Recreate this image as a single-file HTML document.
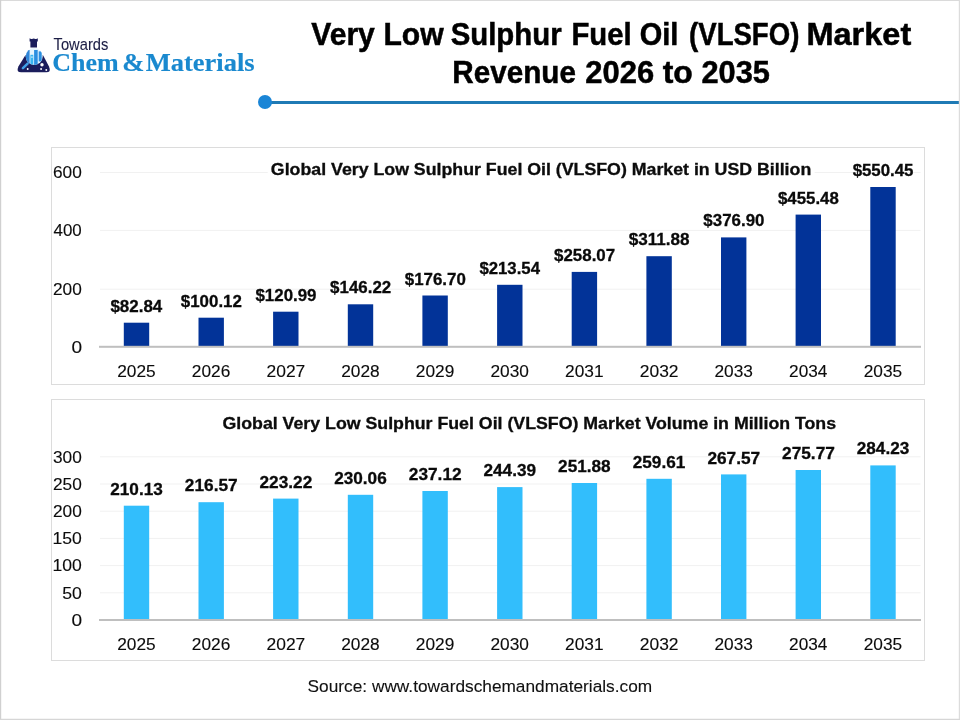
<!DOCTYPE html>
<html lang="en">
<head>
<meta charset="utf-8">
<title>Very Low Sulphur Fuel Oil (VLSFO) Market Revenue 2026 to 2035</title>
<style>
html,body{margin:0;padding:0;background:#fff;}
body{width:960px;height:720px;overflow:hidden;}
svg{display:block;}
text{font-family:"Liberation Sans",Arial,sans-serif;fill:#000;}
.t{font-weight:bold;stroke:#000;stroke-width:0.5px;}
.tw{fill:#1c1e45;stroke:#1c1e45;stroke-width:0.1px;}
.ser{font-family:"Liberation Serif","Times New Roman",serif;font-weight:bold;fill:#1a89cf;stroke:#1a89cf;stroke-width:0.15px;}
.ax{fill:#0c0c0c;stroke:#0c0c0c;stroke-width:0.12px;}
.dl{font-weight:bold;fill:#0a0a0a;stroke:#0a0a0a;stroke-width:0.3px;}
.ct{font-weight:bold;fill:#0c0c0c;stroke:#0c0c0c;stroke-width:0.3px;}
.src{fill:#111;stroke:#111;stroke-width:0.1px;}
</style>
</head>
<body>
<svg width="960" height="720" viewBox="0 0 960 720" role="img" aria-label="VLSFO market revenue and volume charts">
<rect x="0" y="0" width="960" height="720" fill="#ffffff"/>

<g id="logo">
<defs><clipPath id="lens"><circle cx="34.2" cy="56.4" r="8.5"/></clipPath></defs>
<path d="M29.6 38.3 q1.2 1 2.4 0.6 q1.7 -0.6 3.4 0 q1.2 0.4 2.4 -0.6 v3.1 h-0.8 v6 h-6.6 v-6 h-0.8 z" fill="#1b1d5c"/>
<path d="M25.2 55.5 L43.2 55.5 L49 66.4 Q51.6 72.3 46.2 72.3 L21.2 72.3 Q15.8 72.3 18.4 66.4 Z" fill="#1b1d5c"/>
<line x1="27.6" y1="63.6" x2="22.9" y2="68.2" stroke="#3f9fe6" stroke-width="2.5" stroke-linecap="round"/>
<circle cx="34.2" cy="56.4" r="8.5" fill="#e6f5fe"/>
<g clip-path="url(#lens)">
<path d="M24 50 L29.6 50 L29.6 66 L24 66 Z" fill="#2f86d8"/>
<rect x="30.4" y="54.8" width="2.9" height="10" fill="#38b6f2"/>
<rect x="34.1" y="50" width="3.6" height="15" fill="#2a8fe0"/>
<rect x="38.7" y="51.4" width="3" height="10" fill="#2a8fe0"/>
<rect x="31.4" y="56.3" width="1.1" height="1.6" fill="#e6f5fe"/>
</g>
<circle cx="42" cy="64.7" r="1.7" fill="#ffffff"/>
<circle cx="27.7" cy="69" r="0.95" fill="#ffffff"/>
<circle cx="41.1" cy="69" r="0.95" fill="#ffffff"/>
<circle cx="46.3" cy="70" r="0.95" fill="#ffffff"/>
<text class="tw" transform="translate(53.57 49.60) scale(0.9191 1)" font-size="16">Towards</text>
<text class="ser" transform="translate(52.33 71.00) scale(1.0149 1)" font-size="25.6">Chem</text>
<text class="ser" transform="translate(122.14 71.00) scale(1.0378 1)" font-size="25.6">&amp;</text>
<text class="ser" transform="translate(145.68 71.00) scale(1.0356 1)" font-size="25.6">Materials</text>
</g>
<text class="t" transform="translate(311.26 44.50) scale(0.9708 1)" font-size="31">Very</text>
<text class="t" transform="translate(383.45 44.50) scale(0.9733 1)" font-size="31">Low</text>
<text class="t" transform="translate(450.65 44.50) scale(0.9477 1)" font-size="31">Sulphur</text>
<text class="t" transform="translate(571.41 44.50) scale(0.9462 1)" font-size="31">Fuel</text>
<text class="t" transform="translate(639.63 44.50) scale(0.9342 1)" font-size="31">Oil</text>
<text class="t" transform="translate(689.06 44.50) scale(0.8901 1)" font-size="31">(VLSFO)</text>
<text class="t" transform="translate(806.40 44.50) scale(1.0492 1)" font-size="31">Market</text>
<text class="t" transform="translate(452.29 82.50) scale(0.9568 1)" font-size="31">Revenue</text>
<text class="t" transform="translate(585.30 82.50) scale(0.9978 1)" font-size="31">2026</text>
<text class="t" transform="translate(662.64 82.50) scale(1.0306 1)" font-size="31">to</text>
<text class="t" transform="translate(701.51 82.50) scale(0.9918 1)" font-size="31">2035</text>
<rect x="265" y="101" width="694" height="3" fill="#1f7ab5"/>
<circle cx="265" cy="102" r="7" fill="#1a85d6"/>
<!-- chart 1 -->
<rect x="51.5" y="147.5" width="873" height="237.0" fill="#ffffff" stroke="#dcdcdc" stroke-width="1"/>
<text class="ax" transform="translate(71.38 352.50) scale(1.1548 1)" font-size="16.5">0</text>
<line x1="100" y1="289.2" x2="920.5" y2="289.2" stroke="#f1f1f1" stroke-width="1"/>
<text class="ax" transform="translate(52.97 294.90) scale(1.0457 1)" font-size="16.5">200</text>
<line x1="100" y1="230.4" x2="920.5" y2="230.4" stroke="#f1f1f1" stroke-width="1"/>
<text class="ax" transform="translate(53.49 236.10) scale(1.0262 1)" font-size="16.5">400</text>
<line x1="100" y1="172.5" x2="920.5" y2="172.5" stroke="#f1f1f1" stroke-width="1"/>
<text class="ax" transform="translate(52.97 178.20) scale(1.0457 1)" font-size="16.5">600</text>
<rect x="123.8" y="322.7" width="25.4" height="24.1" fill="#023398"/>
<rect x="198.5" y="317.7" width="25.4" height="29.1" fill="#023398"/>
<rect x="273.1" y="311.7" width="25.4" height="35.1" fill="#023398"/>
<rect x="347.8" y="304.3" width="25.4" height="42.5" fill="#023398"/>
<rect x="422.4" y="295.5" width="25.4" height="51.3" fill="#023398"/>
<rect x="497.1" y="284.8" width="25.4" height="62.0" fill="#023398"/>
<rect x="571.7" y="271.9" width="25.4" height="74.9" fill="#023398"/>
<rect x="646.4" y="256.2" width="25.4" height="90.6" fill="#023398"/>
<rect x="721.0" y="237.4" width="25.4" height="109.4" fill="#023398"/>
<rect x="795.6" y="214.6" width="25.4" height="132.2" fill="#023398"/>
<rect x="870.3" y="187.0" width="25.4" height="159.8" fill="#023398"/>
<rect x="99" y="345.8" width="822" height="2" fill="#bfbfbf"/>
<text class="dl" transform="translate(110.45 311.85) scale(0.9971 1)" font-size="17">$82.84</text>
<text class="ax" transform="translate(117.21 376.80) scale(1.0496 1)" font-size="16.5">2025</text>
<text class="dl" transform="translate(180.80 306.83) scale(0.9950 1)" font-size="17">$100.12</text>
<text class="ax" transform="translate(191.86 376.80) scale(1.0496 1)" font-size="16.5">2026</text>
<text class="dl" transform="translate(255.45 300.77) scale(0.9950 1)" font-size="17">$120.99</text>
<text class="ax" transform="translate(266.51 376.80) scale(1.0571 1)" font-size="16.5">2027</text>
<text class="dl" transform="translate(330.10 293.45) scale(0.9950 1)" font-size="17">$146.22</text>
<text class="ax" transform="translate(341.16 376.80) scale(1.0496 1)" font-size="16.5">2028</text>
<text class="dl" transform="translate(404.75 284.60) scale(0.9950 1)" font-size="17">$176.70</text>
<text class="ax" transform="translate(415.81 376.80) scale(1.0496 1)" font-size="16.5">2029</text>
<text class="dl" transform="translate(479.40 273.90) scale(0.9869 1)" font-size="17">$213.54</text>
<text class="ax" transform="translate(490.46 376.80) scale(1.0496 1)" font-size="16.5">2030</text>
<text class="dl" transform="translate(554.05 260.97) scale(0.9950 1)" font-size="17">$258.07</text>
<text class="ax" transform="translate(565.11 376.80) scale(1.0496 1)" font-size="16.5">2031</text>
<text class="dl" transform="translate(628.70 245.35) scale(1.0075 1)" font-size="17">$311.88</text>
<text class="ax" transform="translate(639.76 376.80) scale(1.0571 1)" font-size="16.5">2032</text>
<text class="dl" transform="translate(703.35 226.47) scale(0.9950 1)" font-size="17">$376.90</text>
<text class="ax" transform="translate(714.41 376.80) scale(1.0496 1)" font-size="16.5">2033</text>
<text class="dl" transform="translate(778.00 203.65) scale(0.9909 1)" font-size="17">$455.48</text>
<text class="ax" transform="translate(789.07 376.80) scale(1.0423 1)" font-size="16.5">2034</text>
<text class="dl" transform="translate(852.65 176.08) scale(0.9909 1)" font-size="17">$550.45</text>
<text class="ax" transform="translate(863.71 376.80) scale(1.0496 1)" font-size="16.5">2035</text>
<rect x="267.7" y="158.8" width="546.9" height="22" fill="#ffffff"/>
<text class="ct" transform="translate(270.87 174.80) scale(1.1100 1)" font-size="16">Global Very Low Sulphur Fuel Oil (VLSFO) Market in USD Billion</text>
<!-- chart 2 -->
<rect x="51.5" y="399.5" width="873" height="261.0" fill="#ffffff" stroke="#dcdcdc" stroke-width="1"/>
<text class="ax" transform="translate(71.38 625.70) scale(1.1548 1)" font-size="16.5">0</text>
<line x1="100" y1="592.8" x2="920.5" y2="592.8" stroke="#f1f1f1" stroke-width="1"/>
<text class="ax" transform="translate(62.20 598.50) scale(1.0706 1)" font-size="16.5">50</text>
<line x1="100" y1="565.6" x2="920.5" y2="565.6" stroke="#f1f1f1" stroke-width="1"/>
<text class="ax" transform="translate(52.42 571.30) scale(1.0660 1)" font-size="16.5">100</text>
<line x1="100" y1="538.4" x2="920.5" y2="538.4" stroke="#f1f1f1" stroke-width="1"/>
<text class="ax" transform="translate(52.42 544.10) scale(1.0660 1)" font-size="16.5">150</text>
<line x1="100" y1="511.2" x2="920.5" y2="511.2" stroke="#f1f1f1" stroke-width="1"/>
<text class="ax" transform="translate(52.97 516.90) scale(1.0457 1)" font-size="16.5">200</text>
<line x1="100" y1="484.0" x2="920.5" y2="484.0" stroke="#f1f1f1" stroke-width="1"/>
<text class="ax" transform="translate(52.97 489.70) scale(1.0457 1)" font-size="16.5">250</text>
<line x1="100" y1="456.8" x2="920.5" y2="456.8" stroke="#f1f1f1" stroke-width="1"/>
<text class="ax" transform="translate(52.97 462.50) scale(1.0457 1)" font-size="16.5">300</text>
<rect x="123.8" y="505.7" width="25.4" height="114.3" fill="#32befc"/>
<rect x="198.5" y="502.2" width="25.4" height="117.8" fill="#32befc"/>
<rect x="273.1" y="498.6" width="25.4" height="121.4" fill="#32befc"/>
<rect x="347.8" y="494.8" width="25.4" height="125.2" fill="#32befc"/>
<rect x="422.4" y="491.0" width="25.4" height="129.0" fill="#32befc"/>
<rect x="497.1" y="487.1" width="25.4" height="132.9" fill="#32befc"/>
<rect x="571.7" y="483.0" width="25.4" height="137.0" fill="#32befc"/>
<rect x="646.4" y="478.8" width="25.4" height="141.2" fill="#32befc"/>
<rect x="721.0" y="474.4" width="25.4" height="145.6" fill="#32befc"/>
<rect x="795.6" y="470.0" width="25.4" height="150.0" fill="#32befc"/>
<rect x="870.3" y="465.4" width="25.4" height="154.6" fill="#32befc"/>
<rect x="99" y="619" width="822" height="2" fill="#bfbfbf"/>
<text class="dl" transform="translate(110.19 494.79) scale(1.0118 1)" font-size="17">210.13</text>
<text class="ax" transform="translate(117.21 649.80) scale(1.0496 1)" font-size="16.5">2025</text>
<text class="dl" transform="translate(184.84 491.29) scale(1.0167 1)" font-size="17">216.57</text>
<text class="ax" transform="translate(191.86 649.80) scale(1.0496 1)" font-size="16.5">2026</text>
<text class="dl" transform="translate(259.49 487.67) scale(1.0167 1)" font-size="17">223.22</text>
<text class="ax" transform="translate(266.51 649.80) scale(1.0571 1)" font-size="16.5">2027</text>
<text class="dl" transform="translate(334.14 483.95) scale(1.0118 1)" font-size="17">230.06</text>
<text class="ax" transform="translate(341.16 649.80) scale(1.0496 1)" font-size="16.5">2028</text>
<text class="dl" transform="translate(408.79 480.11) scale(1.0167 1)" font-size="17">237.12</text>
<text class="ax" transform="translate(415.81 649.80) scale(1.0496 1)" font-size="16.5">2029</text>
<text class="dl" transform="translate(483.44 476.15) scale(1.0118 1)" font-size="17">244.39</text>
<text class="ax" transform="translate(490.46 649.80) scale(1.0496 1)" font-size="16.5">2030</text>
<text class="dl" transform="translate(558.09 472.08) scale(1.0118 1)" font-size="17">251.88</text>
<text class="ax" transform="translate(565.11 649.80) scale(1.0496 1)" font-size="16.5">2031</text>
<text class="dl" transform="translate(632.74 467.87) scale(1.0118 1)" font-size="17">259.61</text>
<text class="ax" transform="translate(639.76 649.80) scale(1.0571 1)" font-size="16.5">2032</text>
<text class="dl" transform="translate(707.39 463.54) scale(1.0167 1)" font-size="17">267.57</text>
<text class="ax" transform="translate(714.41 649.80) scale(1.0496 1)" font-size="16.5">2033</text>
<text class="dl" transform="translate(782.04 459.08) scale(1.0167 1)" font-size="17">275.77</text>
<text class="ax" transform="translate(789.07 649.80) scale(1.0423 1)" font-size="16.5">2034</text>
<text class="dl" transform="translate(856.69 454.48) scale(1.0118 1)" font-size="17">284.23</text>
<text class="ax" transform="translate(863.71 649.80) scale(1.0496 1)" font-size="16.5">2035</text>
<rect x="219.3" y="413.3" width="620.4" height="22" fill="#ffffff"/>
<text class="ct" transform="translate(222.47 429.30) scale(1.1099 1)" font-size="16">Global Very Low Sulphur Fuel Oil (VLSFO) Market Volume in Million Tons</text>
<text class="src" transform="translate(307.59 691.70) scale(1.0803 1)" font-size="16">Source: www.towardschemandmaterials.com</text>
<rect x="0" y="0" width="960" height="1" fill="#dadada"/>
<rect x="0" y="0" width="1.2" height="720" fill="#d0d0d0"/>
<rect x="958.8" y="0" width="1.2" height="720" fill="#dcdcdc"/>
<rect x="0" y="718.75" width="960" height="1.25" fill="#d6d6d6"/>
</svg>
</body>
</html>
